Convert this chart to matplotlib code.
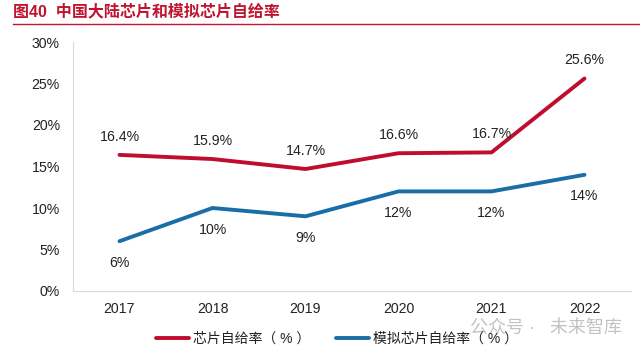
import matplotlib
matplotlib.use('Agg')
import matplotlib.pyplot as plt

plt.rcParams['font.family'] = ['Liberation Sans', 'Noto Sans CJK SC', 'DejaVu Sans']

Years = ['2017', '2018', '2019', '2020', '2021', '2022']
ChipRate = [16.4, 15.9, 14.7, 16.6, 16.7, 25.6]
AnalogRate = [6, 10, 9, 12, 12, 14]
ChipLabels = ['16.4%', '15.9%', '14.7%', '16.6%', '16.7%', '25.6%']
AnalogLabels = ['6%', '10%', '9%', '12%', '12%', '14%']
YTicks = [0, 5, 10, 15, 20, 25, 30]

W, H = 640, 358
Fig = plt.figure(figsize=(W / 100, H / 100), dpi=100)
Ax = Fig.add_axes([73 / W, 1 - 291 / H, 558 / W, 249 / H])

X = range(len(Years))
Ax.plot(X, ChipRate, color='#c00d2e', lw=2.8, label='芯片自给率（ % ）', solid_capstyle='round')
Ax.plot(X, AnalogRate, color='#1a6ea8', lw=2.8, label='模拟芯片自给率（ % ）', solid_capstyle='round')

for i, s in enumerate(ChipLabels):
    Ax.annotate(s, (i, ChipRate[i]), xytext=(0, 8), textcoords='offset points',
                ha='center', va='bottom', fontsize=10.2, color='#222222')
for i, s in enumerate(AnalogLabels):
    Ax.annotate(s, (i, AnalogRate[i]), xytext=(0, -10.5), textcoords='offset points',
                ha='center', va='top', fontsize=10.2, color='#222222')

Ax.set_xlim(-0.5, 5.5)
Ax.set_ylim(0, 30)
Ax.set_xticks(list(X))
Ax.set_xticklabels(Years)
Ax.set_yticks(YTicks)
Ax.set_yticklabels(['{0}%'.format(v) for v in YTicks])
Ax.tick_params(axis='both', length=0, labelsize=10.2, labelcolor='#222222')
Ax.tick_params(axis='x', pad=8)
Ax.tick_params(axis='y', pad=9.4)
for Side in ['top', 'right']:
    Ax.spines[Side].set_visible(False)
for Side in ['left', 'bottom']:
    Ax.spines[Side].set_color('#d9d9d9')

Handles, Labels = Ax.get_legend_handles_labels()
Fig.legend(Handles, Labels, loc='center', bbox_to_anchor=(337 / W, 1 - 339 / H), ncol=2, frameon=False,
           fontsize=10, handlelength=2.4, columnspacing=1.8, handletextpad=0.3, borderpad=0,
           labelcolor='#222222')

Fig.text(13 / W, 1 - 11 / H, '图40  中国大陆芯片和模拟芯片自给率', color='#c0142f', fontsize=11.5,
         fontweight='bold', ha='left', va='center')
Fig.add_artist(plt.Line2D([13 / W, 1], [1 - 24 / H, 1 - 24 / H], color='#c0142f', lw=1.0))

Fig.text(470 / W, 1 - 329 / H, '公众号 ·   未来智库', color='#9a9a9a', fontsize=13, alpha=0.6,
         ha='left', va='center')

Fig.savefig('out.png', dpi=100)
plt.close(Fig)
